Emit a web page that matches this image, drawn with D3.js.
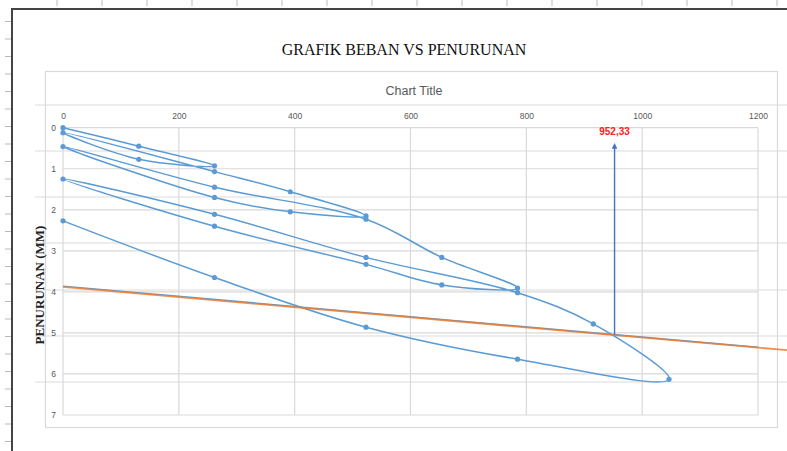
<!DOCTYPE html>
<html>
<head>
<meta charset="utf-8">
<script src="https://cdn.jsdelivr.net/npm/d3@7"></script>
<style>
  body { margin: 0; background: #fff; }
  svg { display: block; }
</style>
</head>
<body>
<svg width="787" height="451"></svg>
<script>
// beban (load) and penurunan (settlement, mm) in test order, 4 load cycles
var beban = [0, 130.8, 261.6, 130.8, 0,
             261.6, 392.4, 523.2, 392.4, 261.6, 0,
             261.6, 523.2, 654, 784.8, 654, 523.2, 261.6, 0,
             261.6, 523.2, 784.8, 915.6, 1046.4, 784.8, 523.2, 261.6, 0];
var penurunan = [0, 0.45, 0.93, 0.77, 0.12,
                 1.07, 1.56, 2.15, 2.05, 1.70, 0.46,
                 1.45, 2.23, 3.16, 3.91, 3.83, 3.33, 2.40, 1.25,
                 2.11, 3.16, 4.02, 4.78, 6.13, 5.64, 4.86, 3.65, 2.27];

// straight helper series and its trendline
var garisBeban = [0, 1200];
var garisPenurunan = [3.86, 5.35];
var trendBeban = [0, 1250];
var trendPenurunan = [3.88, 5.42];

// arrow marking the reading
var panahBeban = 952.33;
var panahPenurunan = [5.05, 0.37];
var panahLabel = "952,33";

var xTicks = [0, 200, 400, 600, 800, 1000, 1200];
var yTicks = [0, 1, 2, 3, 4, 5, 6, 7];

var svg = d3.select("svg");

// ---- page / sheet background ----
var sheetRows = [105, 151, 197, 243, 290, 336, 382];
svg.selectAll(".row").data(sheetRows).enter().append("line")
  .attr("x1", 35).attr("x2", 787)
  .attr("y1", d => d).attr("y2", d => d)
  .attr("stroke", "#dcdcdc").attr("stroke-width", 1.2);

// ruler ticks
svg.selectAll(".rt").data(d3.range(57, 787, 45)).enter().append("line")
  .attr("x1", d => d).attr("x2", d => d).attr("y1", 0).attr("y2", 6)
  .attr("stroke", "#bbb");
svg.selectAll(".lt").data(d3.range(21.5, 451, 17.5)).enter().append("line")
  .attr("x1", 5).attr("x2", 11).attr("y1", d => d).attr("y2", d => d)
  .attr("stroke", "#bbb");

svg.append("path")
  .attr("d", "M12,451 L12,9 L787,9")
  .attr("fill", "none").attr("stroke", "#444").attr("stroke-width", 2);

// ---- chart area ----
svg.append("rect")
  .attr("x", 45.5).attr("y", 71.5).attr("width", 732).attr("height", 356)
  .attr("fill", "none").attr("stroke", "#d9d9d9").attr("stroke-width", 1.2);

svg.append("text")
  .attr("x", 404).attr("y", 55)
  .attr("text-anchor", "middle")
  .style("font-family", "'Liberation Serif', 'Times New Roman', serif")
  .style("font-size", "16px").attr("fill", "#111")
  .text("GRAFIK BEBAN VS PENURUNAN");

svg.append("text")
  .attr("x", 414).attr("y", 95)
  .attr("text-anchor", "middle")
  .style("font-family", "'Liberation Sans', Arial, sans-serif")
  .style("font-size", "12.5px").attr("fill", "#595959")
  .text("Chart Title");

var xScale = d3.scaleLinear().domain([0, 1200]).range([63, 758]);
var yScale = d3.scaleLinear().domain([0, 7]).range([127.7, 415]);

// gridlines
svg.append("g").selectAll("line").data(xTicks).enter().append("line")
  .attr("x1", d => xScale(d)).attr("x2", d => xScale(d))
  .attr("y1", yScale(0)).attr("y2", yScale(7))
  .attr("stroke", "#d9d9d9").attr("stroke-width", 1.2);
svg.append("g").selectAll("line").data(yTicks).enter().append("line")
  .attr("x1", xScale(0)).attr("x2", xScale(1200))
  .attr("y1", d => yScale(d)).attr("y2", d => yScale(d))
  .attr("stroke", "#d9d9d9").attr("stroke-width", 1.2);

// axes (labels only, Excel style)
var fmt = d3.format("d");
var xAxis = d3.axisTop(xScale).tickValues(xTicks).tickFormat(fmt).tickSize(0).tickPadding(0);
var gx = svg.append("g").attr("transform", "translate(0,119)").call(xAxis);
var yAxis = d3.axisLeft(yScale).tickValues(yTicks).tickFormat(fmt).tickSize(0).tickPadding(0);
var gy = svg.append("g").attr("transform", "translate(56,0)").call(yAxis);
[gx, gy].forEach(function(g) {
  g.select(".domain").remove();
  g.selectAll("text")
    .style("font-family", "'Liberation Sans', Arial, sans-serif")
    .style("font-size", "8.5px").attr("fill", "#595959");
});
gx.selectAll("text").attr("dy", 0);

svg.append("text")
  .attr("transform", "translate(44,285) rotate(-90)")
  .attr("text-anchor", "middle")
  .style("font-family", "'Liberation Serif', 'Times New Roman', serif")
  .style("font-size", "13px").style("font-weight", "bold").attr("fill", "#222")
  .text("PENURUNAN (MM)");

// ---- series ----
var titik = beban.map((b, i) => [b, penurunan[i]]);

var smooth = d3.line()
  .x(d => xScale(d[0]))
  .y(d => yScale(d[1]))
  .curve(d3.curveCatmullRom.alpha(0.5));

svg.append("path")
  .datum(titik)
  .attr("d", smooth)
  .attr("fill", "none").attr("stroke", "#5B9BD5").attr("stroke-width", 1.5);

svg.selectAll(".dot").data(titik).enter().append("circle")
  .attr("cx", d => xScale(d[0])).attr("cy", d => yScale(d[1]))
  .attr("r", 2.6).attr("fill", "#5B9BD5");

var straight = d3.line().x(d => xScale(d[0])).y(d => yScale(d[1]));

svg.append("path")
  .datum(garisBeban.map((b, i) => [b, garisPenurunan[i]]))
  .attr("d", straight)
  .attr("fill", "none").attr("stroke", "#5B9BD5").attr("stroke-width", 1.5);

svg.append("path")
  .datum(trendBeban.map((b, i) => [b, trendPenurunan[i]]))
  .attr("d", straight)
  .attr("fill", "none").attr("stroke", "#ED7D31").attr("stroke-width", 1.8)
  .attr("opacity", 0.85);

// arrow
svg.append("defs").append("marker")
  .attr("id", "head").attr("viewBox", "0 0 10 10")
  .attr("refX", 5).attr("refY", 5)
  .attr("markerWidth", 4).attr("markerHeight", 5)
  .attr("orient", "auto")
  .append("path").attr("d", "M0,0 L10,5 L0,10 z").attr("fill", "#4472C4");

svg.append("line")
  .attr("x1", xScale(panahBeban)).attr("x2", xScale(panahBeban))
  .attr("y1", yScale(panahPenurunan[0])).attr("y2", yScale(panahPenurunan[1]) + 3)
  .attr("stroke", "#4472C4").attr("stroke-width", 1.4)
  .attr("marker-end", "url(#head)");

svg.append("text")
  .attr("x", xScale(panahBeban)).attr("y", 135)
  .attr("text-anchor", "middle")
  .style("font-family", "'Liberation Sans', Arial, sans-serif")
  .style("font-size", "10px").style("font-weight", "bold").attr("fill", "#ff2020")
  .text(panahLabel);
</script>
</body>
</html>
